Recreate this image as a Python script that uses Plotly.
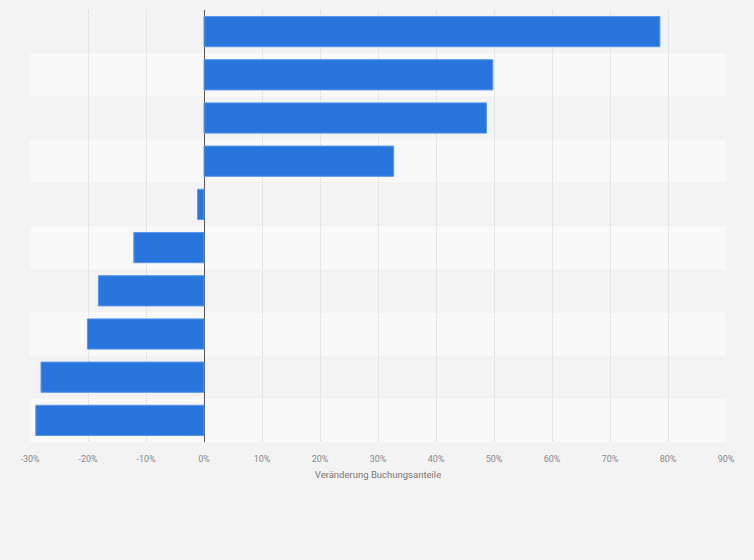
import plotly.graph_objects as go

# Data (top to bottom)
categories = [f"Kategorie {i}" for i in range(1, 11)]
changes = [78.6, 49.8, 48.7, 32.7, -1.1, -12.1, -18.2, -20.1, -28.1, -29.0]
tick_values = [-30, -20, -10, 0, 10, 20, 30, 40, 50, 60, 70, 80, 90]
tick_labels = [f"{v}%" for v in tick_values]
x_title = "Veränderung Buchungsanteile"

fig = go.Figure()
fig.add_trace(go.Bar(
    x=changes,
    y=categories,
    orientation="h",
    marker=dict(color="#2876dd", line=dict(color="#5a96e6", width=1)),
    width=0.7,
    hoverinfo="x+y",
))

# alternating row bands
for i, cat in enumerate(categories):
    fig.add_shape(
        type="rect", xref="paper", yref="y",
        x0=0, x1=1, y0=i - 0.5, y1=i + 0.5,
        fillcolor="#f3f3f3" if i % 2 == 0 else "#f9f9f9",
        line_width=0, layer="below",
    )

fig.update_layout(
    width=754,
    height=560,
    margin=dict(l=30, r=28, t=10, b=118),
    paper_bgcolor="#f3f3f3",
    plot_bgcolor="#f3f3f3",
    showlegend=False,
    font=dict(family="Roboto, Arial, sans-serif", color="#666666"),
)
fig.update_xaxes(
    range=[-30, 90],
    tickvals=tick_values,
    ticktext=tick_labels,
    tickfont=dict(size=9, color="#888888"),
    showgrid=True,
    gridcolor="#d4d4d4",
    griddash="1px,1px",
    gridwidth=1,
    zeroline=True,
    zerolinecolor="#555555",
    zerolinewidth=1,
    title=dict(text=x_title, font=dict(size=9.5, color="#777777"), standoff=8),
    ticks="outside",
    ticklen=8,
    tickcolor="rgba(0,0,0,0)",
)
fig.update_yaxes(
    categoryorder="array",
    categoryarray=categories,
    autorange="reversed",
    showticklabels=False,
    showgrid=False,
    ticks="",
)

# drop the default page margin so the figure fills the window
fig.write_html(
    "out.html",
    config={"displayModeBar": False},
    post_script="document.body.style.margin='0';document.body.style.background='#f3f3f3';",
)
